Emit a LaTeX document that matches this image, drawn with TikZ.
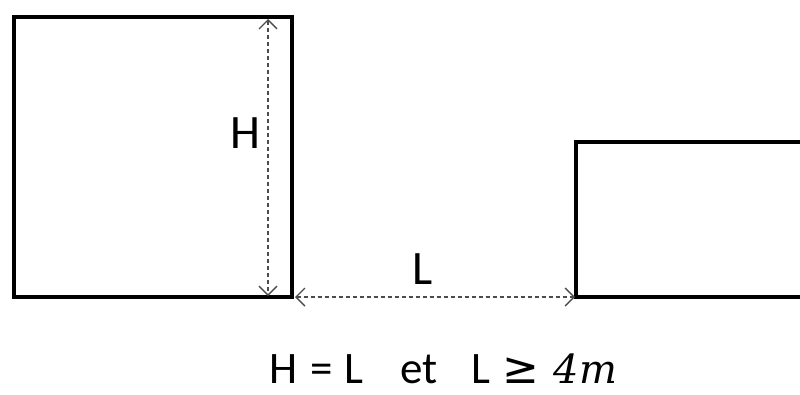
\documentclass[tikz,border=0pt]{standalone}
\usepackage{fontspec}
\setmainfont{Carlito}
\newfontfamily\myital{DejaVu Serif}
\newfontfamily\mysym{DejaVu Sans}
\usetikzlibrary{arrows.meta}
\begin{document}
\begin{tikzpicture}[x=1pt,y=-1pt,
  wall/.style={line width=3.2pt, line join=miter},
  dim/.style={black!70, line width=1.4pt, dash pattern=on 4pt off 3pt, {Straight Barb[length=9pt,width=18pt,line width=1.4pt]}-{Straight Barb[length=9pt,width=18pt,line width=1.4pt]}},
  lbl/.style={font=\fontsize{48}{52}\selectfont, inner sep=0pt},
  eqn/.style={font=\fontsize{45}{50}\selectfont, inner sep=0pt}]
\useasboundingbox (0,0) rectangle (800,394);
\draw[wall] (14,17) rectangle (292,297);
\draw[wall] (812,142) -- (576,142) -- (576,297) -- (812,297);
\coordinate (vt) at (268,19);
\coordinate (vb) at (268,296);
\coordinate (hl) at (295,297);
\coordinate (hr) at (575,297);
\draw[dim] (vt) -- (vb);
\draw[dim] (hl) -- (hr);
\node[lbl] (H) at (245,133) {H};
\node[lbl] (L) at (423,269) {L};
\node[eqn, anchor=base west] (eq) at (269.6,383) {H\hspace{12.7pt}=\hspace{11.9pt}L\hspace{36.5pt}et\hspace{34.1pt}L\hspace{11.5pt}{\mysym\fontsize{44}{48}\selectfont ≥}\hspace{15pt}{\myital\itshape\fontsize{40}{44}\selectfont 4m}};
\end{tikzpicture}
\end{document}
